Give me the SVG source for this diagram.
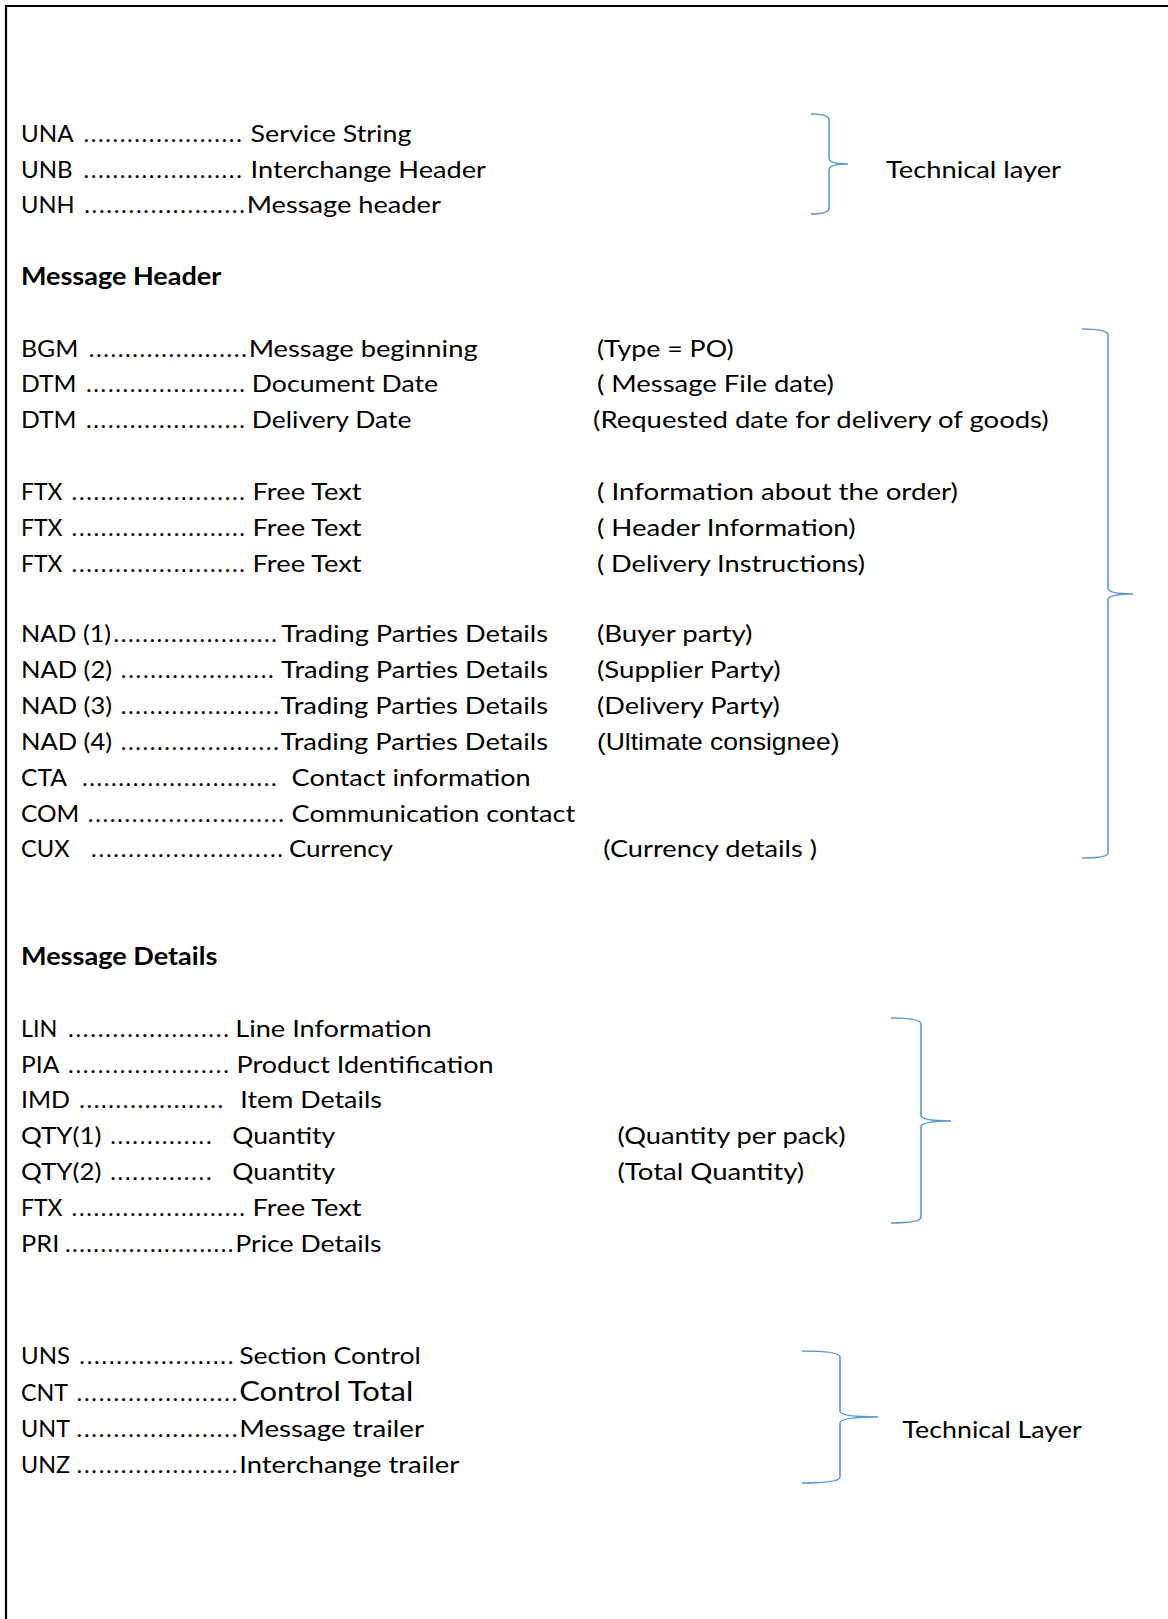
<svg xmlns="http://www.w3.org/2000/svg" width="1168" height="1619" viewBox="0 0 1168 1619">
<style>
text{font-family:Lato,"Open Sans","Liberation Sans",sans-serif;font-size:24px;fill:#000}
.b{font-weight:bold}
.a{font-family:"Liberation Sans",Arial,sans-serif}
.big{font-size:26px}
.brace{fill:none;stroke:#5B9BD5;stroke-width:1.6}
.frame{fill:none;stroke:#000;stroke-width:2.2}
</style>
<rect width="1168" height="1619" fill="#fff"/>
<path class="frame" d="M6,1619 L6,6 L1168,6"/>

<g id="una"><text x="21" y="141.7" textLength="52.5" lengthAdjust="spacingAndGlyphs">UNA</text><text x="83.4" y="141.7" textLength="158.4" lengthAdjust="spacing">......................</text><text x="250.6" y="141.7" textLength="160.8" lengthAdjust="spacingAndGlyphs">Service String</text></g>
<g id="unb"><text x="21" y="177.7" textLength="51.7" lengthAdjust="spacingAndGlyphs">UNB</text><text x="83.4" y="177.7" textLength="158.4" lengthAdjust="spacing">......................</text><text x="250.6" y="177.7" textLength="235.4" lengthAdjust="spacingAndGlyphs">Interchange Header</text></g>
<g id="unh"><text x="21" y="213.3" textLength="53.6" lengthAdjust="spacingAndGlyphs">UNH</text><text x="84.2" y="213.3" textLength="160.7" lengthAdjust="spacing">......................</text><text x="246.8" y="213.3" textLength="194" lengthAdjust="spacingAndGlyphs">Message header</text></g>
<g id="tech1"><text x="886" y="178.3" textLength="175" lengthAdjust="spacingAndGlyphs">Technical layer</text></g>

<g id="h-msgheader"><text class="b" x="21" y="285" textLength="200.2" lengthAdjust="spacingAndGlyphs">Message Header</text></g>

<g id="bgm"><text x="21" y="357.3" textLength="57.4" lengthAdjust="spacingAndGlyphs">BGM</text><text x="88.8" y="357.3" textLength="158" lengthAdjust="spacing">......................</text><text x="248.7" y="357.3" textLength="228.9" lengthAdjust="spacingAndGlyphs">Message beginning</text><text x="596.9" y="357.3" textLength="136.8" lengthAdjust="spacingAndGlyphs">(Type = PO)</text></g>
<g id="dtm1"><text x="21" y="391.7" textLength="55.5" lengthAdjust="spacingAndGlyphs">DTM</text><text x="86" y="391.7" textLength="158.9" lengthAdjust="spacing">......................</text><text x="251.8" y="391.7" textLength="186.3" lengthAdjust="spacingAndGlyphs">Document Date</text><text x="596.9" y="391.7" textLength="236.9" lengthAdjust="spacingAndGlyphs">( Message File date)</text></g>
<g id="dtm2"><text x="21" y="427.7" textLength="55.5" lengthAdjust="spacingAndGlyphs">DTM</text><text x="86" y="427.7" textLength="158.9" lengthAdjust="spacing">......................</text><text x="251.8" y="427.7" textLength="159.6" lengthAdjust="spacingAndGlyphs">Delivery Date</text><text x="593.1" y="427.7" textLength="455.6" lengthAdjust="spacingAndGlyphs">(Requested date for delivery of goods)</text></g>

<g id="ftx1"><text x="21" y="500" textLength="41.4" lengthAdjust="spacingAndGlyphs">FTX</text><text x="71.6" y="500" textLength="173.3" lengthAdjust="spacing">........................</text><text x="252.6" y="500" textLength="109" lengthAdjust="spacingAndGlyphs">Free Text</text><text x="596.9" y="500" textLength="361.1" lengthAdjust="spacingAndGlyphs">( Information about the order)</text></g>
<g id="ftx2"><text x="21" y="535.7" textLength="41.4" lengthAdjust="spacingAndGlyphs">FTX</text><text x="71.6" y="535.7" textLength="173.3" lengthAdjust="spacing">........................</text><text x="252.6" y="535.7" textLength="109" lengthAdjust="spacingAndGlyphs">Free Text</text><text x="596.9" y="535.7" textLength="258.7" lengthAdjust="spacingAndGlyphs">( Header Information)</text></g>
<g id="ftx3"><text x="21" y="571.7" textLength="41.4" lengthAdjust="spacingAndGlyphs">FTX</text><text x="71.6" y="571.7" textLength="173.3" lengthAdjust="spacing">........................</text><text x="252.6" y="571.7" textLength="109" lengthAdjust="spacingAndGlyphs">Free Text</text><text x="596.9" y="571.7" textLength="268.1" lengthAdjust="spacingAndGlyphs">( Delivery Instructions)</text></g>

<g id="nad1"><text x="21" y="642.3" textLength="90" lengthAdjust="spacingAndGlyphs">NAD (1)</text><text x="113.6" y="642.3" textLength="163.2" lengthAdjust="spacing">.......................</text><text x="281.3" y="642.3" textLength="266.7" lengthAdjust="spacingAndGlyphs">Trading Parties Details</text><text x="596.9" y="642.3" textLength="155.6" lengthAdjust="spacingAndGlyphs">(Buyer party)</text></g>
<g id="nad2"><text x="21" y="678.3" textLength="91" lengthAdjust="spacingAndGlyphs">NAD (2)</text><text x="120.8" y="678.3" textLength="152.9" lengthAdjust="spacing">.....................</text><text x="281.3" y="678.3" textLength="266.7" lengthAdjust="spacingAndGlyphs">Trading Parties Details</text><text x="596.9" y="678.3" textLength="183.7" lengthAdjust="spacingAndGlyphs">(Supplier Party)</text></g>
<g id="nad3"><text x="21" y="714.3" textLength="91" lengthAdjust="spacingAndGlyphs">NAD (3)</text><text x="120.8" y="714.3" textLength="158" lengthAdjust="spacing">......................</text><text x="280.5" y="714.3" textLength="267.5" lengthAdjust="spacingAndGlyphs">Trading Parties Details</text><text x="596.9" y="714.3" textLength="183" lengthAdjust="spacingAndGlyphs">(Delivery Party)</text></g>
<g id="nad4"><text x="21" y="750" textLength="91" lengthAdjust="spacingAndGlyphs">NAD (4)</text><text x="120.8" y="750" textLength="158" lengthAdjust="spacing">......................</text><text x="280.5" y="750" textLength="267.5" lengthAdjust="spacingAndGlyphs">Trading Parties Details</text><text class="a" x="596.9" y="750" textLength="242.6" lengthAdjust="spacingAndGlyphs">(Ultimate consignee)</text></g>
<g id="cta"><text x="21" y="785.7" textLength="46" lengthAdjust="spacingAndGlyphs">CTA</text><text x="82" y="785.7" textLength="194.6" lengthAdjust="spacing">...........................</text><text x="291.6" y="785.7" textLength="239.1" lengthAdjust="spacingAndGlyphs">Contact information</text></g>
<g id="com"><text x="21" y="821.7" textLength="58.2" lengthAdjust="spacingAndGlyphs">COM</text><text x="87.8" y="821.7" textLength="196.2" lengthAdjust="spacing">...........................</text><text x="291.6" y="821.7" textLength="283.5" lengthAdjust="spacingAndGlyphs">Communication contact</text></g>
<g id="cux"><text x="21" y="857.3" textLength="48.6" lengthAdjust="spacingAndGlyphs">CUX</text><text x="91" y="857.3" textLength="192" lengthAdjust="spacing">..........................</text><text x="288.9" y="857.3" textLength="104.1" lengthAdjust="spacingAndGlyphs">Currency</text><text x="603.2" y="857.3" textLength="213.8" lengthAdjust="spacingAndGlyphs">(Currency details )</text></g>

<g id="h-msgdetails"><text class="b" x="21" y="965" textLength="196.3" lengthAdjust="spacingAndGlyphs">Message Details</text></g>

<g id="lin"><text x="21" y="1036.7" textLength="36.4" lengthAdjust="spacingAndGlyphs">LIN</text><text x="68.1" y="1036.7" textLength="160.7" lengthAdjust="spacing">......................</text><text x="235.3" y="1036.7" textLength="196.3" lengthAdjust="spacingAndGlyphs">Line Information</text></g>
<g id="pia"><text x="21" y="1072.7" textLength="38.3" lengthAdjust="spacingAndGlyphs">PIA</text><text x="68.1" y="1072.7" textLength="160.7" lengthAdjust="spacing">......................</text><text x="236.5" y="1072.7" textLength="257.1" lengthAdjust="spacingAndGlyphs">Product Identification</text></g>
<g id="imd"><text x="21" y="1108.3" textLength="49" lengthAdjust="spacingAndGlyphs">IMD</text><text x="79.2" y="1108.3" textLength="143.9" lengthAdjust="spacing">....................</text><text x="240.3" y="1108.3" textLength="141.6" lengthAdjust="spacingAndGlyphs">Item Details</text></g>
<g id="qty1"><text x="21" y="1144.3" textLength="80.4" lengthAdjust="spacingAndGlyphs">QTY(1)</text><text x="110.2" y="1144.3" textLength="101.4" lengthAdjust="spacing">..............</text><text x="232.3" y="1144.3" textLength="102.9" lengthAdjust="spacingAndGlyphs">Quantity</text><text x="617.5" y="1144.3" textLength="228" lengthAdjust="spacingAndGlyphs">(Quantity per pack)</text></g>
<g id="qty2"><text x="21" y="1180" textLength="80.4" lengthAdjust="spacingAndGlyphs">QTY(2)</text><text x="110.2" y="1180" textLength="101.4" lengthAdjust="spacing">..............</text><text x="232.3" y="1180" textLength="102.9" lengthAdjust="spacingAndGlyphs">Quantity</text><text x="617.5" y="1180" textLength="186.7" lengthAdjust="spacingAndGlyphs">(Total Quantity)</text></g>
<g id="ftx4"><text x="21" y="1216" textLength="41.4" lengthAdjust="spacingAndGlyphs">FTX</text><text x="71.6" y="1216" textLength="173.3" lengthAdjust="spacing">........................</text><text x="252.6" y="1216" textLength="109" lengthAdjust="spacingAndGlyphs">Free Text</text></g>
<g id="pri"><text x="21" y="1251.7" textLength="38.3" lengthAdjust="spacingAndGlyphs">PRI</text><text x="65" y="1251.7" textLength="168.4" lengthAdjust="spacing">........................</text><text x="235.3" y="1251.7" textLength="146.2" lengthAdjust="spacingAndGlyphs">Price Details</text></g>

<g id="uns"><text x="21" y="1364.3" textLength="49" lengthAdjust="spacingAndGlyphs">UNS</text><text x="79.2" y="1364.3" textLength="154.2" lengthAdjust="spacing">.....................</text><text x="239.2" y="1364.3" textLength="181.7" lengthAdjust="spacingAndGlyphs">Section Control</text></g>
<g id="cnt"><text x="21" y="1401" textLength="47.1" lengthAdjust="spacingAndGlyphs">CNT</text><text x="76.5" y="1401" textLength="160.8" lengthAdjust="spacing">......................</text><text class="big" x="239.2" y="1401" textLength="174.1" lengthAdjust="spacingAndGlyphs">Control Total</text></g>
<g id="unt"><text x="21" y="1436.7" textLength="49" lengthAdjust="spacingAndGlyphs">UNT</text><text x="76.5" y="1436.7" textLength="160.8" lengthAdjust="spacing">......................</text><text x="239.2" y="1436.7" textLength="184.8" lengthAdjust="spacingAndGlyphs">Message trailer</text></g>
<g id="unz"><text x="21" y="1472.7" textLength="49" lengthAdjust="spacingAndGlyphs">UNZ</text><text x="76.5" y="1472.7" textLength="160.8" lengthAdjust="spacing">......................</text><text x="239.2" y="1472.7" textLength="220" lengthAdjust="spacingAndGlyphs">Interchange trailer</text></g>
<g id="tech2"><text x="902.5" y="1438.3" textLength="179.2" lengthAdjust="spacingAndGlyphs">Technical Layer</text></g>

<g id="connectors">
<path class="brace" d="M811,114 Q829,114 829,120 L829,158 Q829,164 848,164 Q829,164 829,170 L829,208 Q829,214 811,214"/>
<path class="brace" d="M1082,329 Q1108,329 1108,335 L1108,588 Q1108,594 1133,594 Q1108,594 1108,600 L1108,853 Q1108,858 1082,858"/>
<path class="brace" d="M891,1018 Q921,1018 921,1024 L921,1115 Q921,1121 951,1121 Q921,1121 921,1127 L921,1217 Q921,1223 891,1223"/>
<path class="brace" d="M802,1351 Q840,1351 840,1357 L840,1411 Q840,1417 878,1417 Q840,1417 840,1423 L840,1477 Q840,1483 802,1483"/>
</g>
</svg>
